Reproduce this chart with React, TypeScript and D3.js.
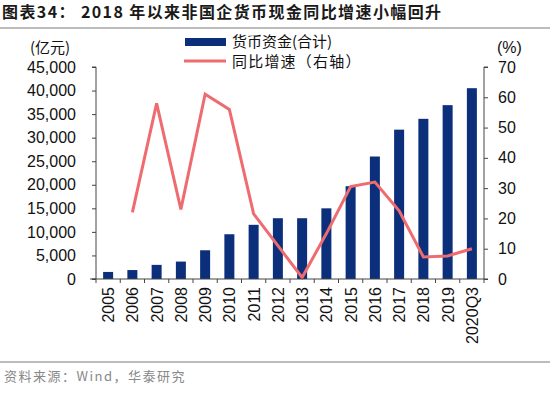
import { useRef, useEffect } from 'react';
import * as d3 from 'd3';

const years = ['2005', '2006', '2007', '2008', '2009', '2010', '2011', '2012', '2013', '2014', '2015', '2016', '2017', '2018', '2019', '2020Q3'];
// 货币资金(合计), 亿元
const cash = [1500, 1900, 3000, 3700, 6100, 9500, 11500, 12900, 12900, 15000, 19700, 26000, 31700, 34000, 36900, 40500];
// 同比增速, % (no value for 2005)
const growth = [null, 22, 58, 23, 61, 56, 21.5, 11, 0.5, 15, 30.5, 32, 22.5, 7.3, 7.6, 10];
const leftTicks = [0, 5000, 10000, 15000, 20000, 25000, 30000, 35000, 40000, 45000];
const rightTicks = [0, 10, 20, 30, 40, 50, 60, 70];

const navy = '#0B2F7A';
const red = '#EE6C70';
const font = '"Liberation Sans", Arial, "Noto Sans CJK SC", sans-serif';
const cjk = '"Noto Sans CJK SC", "Liberation Sans", sans-serif';

export default function App() {
  const svgRef = useRef(null);

  useEffect(() => {
    const svg = d3.select(svgRef.current);
    svg.selectAll('*').remove();

    const left = 96, right = 484, top = 67, bottom = 279;

    const x = d3.scaleBand().domain(years).range([left, right]);
    const yL = d3.scaleLinear().domain([0, 45000]).range([bottom, top]);
    const yR = d3.scaleLinear().domain([0, 70]).range([bottom, top]);

    // title
    svg.append('text').attr('x', 2).attr('y', 18)
      .attr('font-family', cjk).attr('font-weight', 'bold').attr('font-size', 16).attr('letter-spacing', 1.4).attr('fill', '#1a1a1a')
      .text('图表34：  2018 年以来非国企货币现金同比增速小幅回升');
    svg.append('line').attr('x1', 0).attr('x2', 550).attr('y1', 28).attr('y2', 28)
      .attr('stroke', '#a6a6a6').attr('stroke-width', 1.5);

    // bars
    svg.append('g').selectAll('rect').data(cash).enter().append('rect')
      .attr('x', (d, i) => x(years[i]) + x.bandwidth() / 2 - 5)
      .attr('width', 10)
      .attr('y', d => yL(d))
      .attr('height', d => bottom - yL(d))
      .attr('fill', navy);

    // line
    const line = d3.line()
      .defined(d => d != null)
      .x((d, i) => x(years[i]) + x.bandwidth() / 2)
      .y(d => yR(d));
    svg.append('path').datum(growth).attr('d', line)
      .attr('fill', 'none').attr('stroke', red).attr('stroke-width', 3).attr('stroke-linejoin', 'miter');

    // axes
    const axL = svg.append('g').attr('transform', `translate(${left},0)`)
      .call(d3.axisLeft(yL).tickValues(leftTicks).tickSize(4).tickPadding(16).tickFormat(d3.format(',')));
    const axR = svg.append('g').attr('transform', `translate(${right},0)`)
      .call(d3.axisRight(yR).tickValues(rightTicks).tickSize(4).tickPadding(10));
    [axL, axR].forEach(a => {
      a.select('.domain').attr('stroke', '#444').attr('d', a === axL ? `M-4,${top}H0V${bottom}H-4` : `M4,${top}H0V${bottom}H4`);
      a.selectAll('line').attr('stroke', '#444');
      a.selectAll('text').attr('font-family', font).attr('font-size', 16).attr('fill', '#111');
    });

    const axX = svg.append('g').attr('transform', `translate(0,${bottom})`);
    axX.append('line').attr('x1', left - 6).attr('x2', right).attr('y1', 0).attr('y2', 0).attr('stroke', '#444');
    axX.selectAll('.tk').data(d3.range(years.length + 1)).enter().append('line')
      .attr('x1', i => left + i * x.step()).attr('x2', i => left + i * x.step())
      .attr('y1', 0).attr('y2', 4).attr('stroke', '#444');
    axX.selectAll('text').data(years).enter().append('text')
      .attr('transform', d => `translate(${x(d) + x.bandwidth() / 2 + 6},8) rotate(-90)`)
      .attr('text-anchor', 'end')
      .attr('font-family', font).attr('font-size', 16).attr('fill', '#111')
      .text(d => d);

    // unit labels
    svg.append('text').attr('x', 30).attr('y', 53).attr('font-family', cjk).attr('font-size', 15).attr('fill', '#111').text('(亿元)');
    svg.append('text').attr('x', 497).attr('y', 53).attr('font-family', font).attr('font-size', 16).attr('fill', '#111').text('(%)');

    // legend
    const lg = svg.append('g');
    lg.append('rect').attr('x', 185).attr('y', 38).attr('width', 41).attr('height', 8).attr('fill', navy);
    lg.append('text').attr('x', 232).attr('y', 47).attr('font-family', cjk).attr('font-size', 15).attr('fill', '#111').text('货币资金(合计)');
    lg.append('line').attr('x1', 184).attr('x2', 226).attr('y1', 61).attr('y2', 61).attr('stroke', red).attr('stroke-width', 3);
    lg.append('text').attr('x', 232).attr('y', 67).attr('font-family', cjk).attr('font-size', 15).attr('letter-spacing', 1.2).attr('fill', '#111').text('同比增速（右轴）');

    // footer
    svg.append('line').attr('x1', 0).attr('x2', 550).attr('y1', 362).attr('y2', 362)
      .attr('stroke', '#a6a6a6').attr('stroke-width', 1.5);
    svg.append('text').attr('x', 4).attr('y', 381).attr('font-family', cjk).attr('font-size', 13).attr('letter-spacing', 1.5).attr('fill', '#888')
      .text('资料来源：Wind，华泰研究');
  }, []);

  return (
    <svg ref={svgRef} width={550} height={395} style={{ position: 'absolute', left: 0, top: 0, background: '#fff' }} />
  );
}
